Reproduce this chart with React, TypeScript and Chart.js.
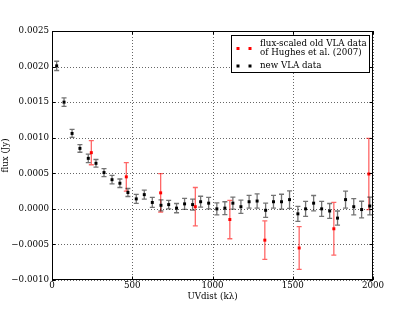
import React, { useEffect, useRef } from "react";
import { Chart, registerables } from "chart.js";
Chart.register(...registerables);

// new VLA data
const newUV = [29, 75, 125, 174, 226, 274, 324, 374, 423, 473, 525, 575, 625, 679, 727, 776, 826, 876, 926, 976, 1027, 1077, 1127, 1177, 1228, 1278, 1331, 1380, 1430, 1480, 1532, 1580, 1630, 1680, 1730, 1779, 1829, 1880, 1929, 1980];
const newFlux = [0.00201, 0.0015, 0.00106, 0.00085, 0.00071, 0.00064, 0.00051, 0.00041, 0.00036, 0.00023, 0.00014, 0.0002, 0.00009, 0.00005, 0.00006, 0.00001, 0.00007, 0.00006, 0.0001, 0.00008, 0.0, 0.00001, 0.00008, 0.00003, 0.0001, 0.00011, -0.00002, 0.0001, 0.0001, 0.00013, -0.00007, 0.0, 0.00008, 0.0, -0.00003, -0.00013, 0.00013, 0.00003, -0.00001, 0.00004];
const newErr = [0.000065, 0.00006, 0.000056, 0.000054, 0.00006, 0.000054, 0.000056, 0.00006, 0.00006, 0.000056, 0.000063, 0.000063, 0.00007, 0.000077, 0.00006, 0.000065, 0.000077, 0.000077, 0.000077, 0.00008, 0.000085, 0.00009, 0.000085, 0.000094, 0.00009, 0.0001, 0.0001, 0.00009, 0.000105, 0.000124, 0.000105, 0.000105, 0.000108, 0.000105, 0.000105, 0.0001, 0.00012, 0.000115, 0.000117, 0.000124];

// flux-scaled old VLA data (Hughes et al. 2007)
const oldUV = [245, 463, 677, 893, 1108, 1326, 1540, 1756, 1974];
const oldFlux = [0.00079, 0.00045, 0.000225, 0.00003, -0.00015, -0.00044, -0.00055, -0.00028, 0.00049];
const oldErr = [0.00017, 0.0002, 0.00027, 0.00027, 0.00027, 0.00027, 0.0003, 0.00037, 0.0005];

const xTicks = [0, 500, 1000, 1500, 2000];
const yTicks = [-0.001, -0.0005, 0, 0.0005, 0.001, 0.0015, 0.002, 0.0025];
const yTickLabels = ["\u22120.0010", "\u22120.0005", "0.0000", "0.0005", "0.0010", "0.0015", "0.0020", "0.0025"];
const legendOld = ["flux-scaled old VLA data", "of Hughes et al. (2007)"];
const legendNew = ["new VLA data"];

const FONT = "DejaVu Serif";
const FS = 8.7;

const errLists = [oldErr, newErr];
const errColors = ["rgba(255,0,0,0.6)", "rgba(0,0,0,0.55)"];

const dottedGrid = {
  id: "dottedGrid",
  beforeDatasetsDraw(chart: any) {
    const ctx = chart.ctx;
    const { left, right, top, bottom } = chart.chartArea;
    const xs = chart.scales.x;
    const ys = chart.scales.y;
    ctx.save();
    ctx.strokeStyle = "rgba(0,0,0,0.6)";
    ctx.lineWidth = 1;
    ctx.setLineDash([1, 2]);
    ctx.beginPath();
    xTicks.forEach((v) => {
      const px = Math.round(xs.getPixelForValue(v)) + 0.5;
      ctx.moveTo(px, top);
      ctx.lineTo(px, bottom);
    });
    yTicks.forEach((v) => {
      const py = Math.round(ys.getPixelForValue(v)) + 0.5;
      ctx.moveTo(left, py);
      ctx.lineTo(right, py);
    });
    ctx.stroke();
    ctx.restore();
  },
};

const errorBars = {
  id: "errorBars",
  beforeDatasetsDraw(chart: any) {
    const ctx = chart.ctx;
    const xs = chart.scales.x;
    const ys = chart.scales.y;
    chart.data.datasets.forEach((ds: any, i: number) => {
      const errs = errLists[i];
      ctx.save();
      ctx.strokeStyle = errColors[i];
      ctx.lineWidth = 1.3;
      ds.data.forEach((p: any, j: number) => {
        const px = xs.getPixelForValue(p.x);
        const t = ys.getPixelForValue(p.y + errs[j]);
        const b = ys.getPixelForValue(p.y - errs[j]);
        ctx.beginPath();
        ctx.moveTo(px, t);
        ctx.lineTo(px, b);
        ctx.moveTo(px - 2.5, t);
        ctx.lineTo(px + 2.5, t);
        ctx.moveTo(px - 2.5, b);
        ctx.lineTo(px + 2.5, b);
        ctx.stroke();
      });
      ctx.restore();
    });
  },
};

const frameAndLegend = {
  id: "frameAndLegend",
  afterDraw(chart: any) {
    const ctx = chart.ctx;
    const { left, right, top, bottom } = chart.chartArea;
    const xs = chart.scales.x;
    const ys = chart.scales.y;
    ctx.save();
    ctx.strokeStyle = "#000";
    ctx.lineWidth = 1;
    // inward ticks
    ctx.beginPath();
    xTicks.forEach((v) => {
      const px = Math.round(xs.getPixelForValue(v)) + 0.5;
      ctx.moveTo(px, bottom);
      ctx.lineTo(px, bottom - 3.5);
      ctx.moveTo(px, top);
      ctx.lineTo(px, top + 3.5);
    });
    yTicks.forEach((v) => {
      const py = Math.round(ys.getPixelForValue(v)) + 0.5;
      ctx.moveTo(left, py);
      ctx.lineTo(left + 3.5, py);
      ctx.moveTo(right, py);
      ctx.lineTo(right - 3.5, py);
    });
    ctx.stroke();
    // frame
    ctx.strokeRect(Math.round(left) + 0.5, Math.round(top) + 0.5, Math.round(right - left) - 1, Math.round(bottom - top) - 1);

    // legend
    const bx = Math.round(right) - 141.5;
    const by = Math.round(top) + 4.5;
    const bw = 138;
    const bh = 37;
    ctx.fillStyle = "#fff";
    ctx.fillRect(bx, by, bw, bh);
    ctx.strokeRect(bx, by, bw, bh);
    const mk = (x: number, y: number, c: string) => {
      ctx.fillStyle = c;
      ctx.fillRect(x - 1.5, y - 1.5, 3, 3);
    };
    const m1 = bx + 6.5;
    const m2 = bx + 18.5;
    const tx = bx + 28.5;
    mk(m1, by + 13, "#ff0000");
    mk(m2, by + 13, "#ff0000");
    mk(m1, by + 30.5, "#000");
    mk(m2, by + 30.5, "#000");
    ctx.fillStyle = "#000";
    ctx.font = `${FS}px "${FONT}"`;
    ctx.textBaseline = "middle";
    ctx.textAlign = "left";
    ctx.fillText(legendOld[0], tx, by + 8);
    ctx.fillText(legendOld[1], tx, by + 17.5);
    ctx.fillText(legendNew[0], tx, by + 30.5);
    ctx.restore();
  },
};

export default function App() {
  const ref = useRef<HTMLCanvasElement | null>(null);
  useEffect(() => {
    document.body.style.margin = "0";
    if (!ref.current) return;
    const chart = new Chart(ref.current, {
      type: "scatter",
      data: {
        datasets: [
          {
            label: "flux-scaled old VLA data of Hughes et al. (2007)",
            data: oldUV.map((x, i) => ({ x, y: oldFlux[i] })),
            backgroundColor: "#ff0000",
            borderColor: "#ff0000",
            borderWidth: 0,
            pointStyle: "rect",
            pointRadius: 2.1,
          },
          {
            label: "new VLA data",
            data: newUV.map((x, i) => ({ x, y: newFlux[i] })),
            backgroundColor: "#000",
            borderColor: "#000",
            borderWidth: 0,
            pointStyle: "rect",
            pointRadius: 2.1,
          },
        ],
      },
      options: {
        animation: false,
        responsive: false,
        events: [],
        layout: { padding: { left: 0, top: 31, right: 42, bottom: 0 } },
        plugins: { legend: { display: false }, tooltip: { enabled: false } },
        scales: {
          x: {
            type: "linear",
            min: 0,
            max: 2000,
            afterFit: (s: any) => {
              s.height = 32;
            },
            afterBuildTicks: (s: any) => {
              s.ticks = xTicks.map((v) => ({ value: v }));
            },
            ticks: {
              color: "#000",
              padding: 1,
              font: { family: FONT, size: FS },
              callback: (v: any) => String(v),
            },
            grid: { display: false, drawTicks: false },
            border: { display: false },
            title: {
              display: true,
              text: "UVdist (k\u03bb)",
              color: "#000",
              font: { family: FONT, size: FS },
              padding: { top: 0, bottom: 10 },
            },
          },
          y: {
            type: "linear",
            min: -0.001,
            max: 0.0025,
            afterFit: (s: any) => {
              s.width = 52;
            },
            afterBuildTicks: (s: any) => {
              s.ticks = yTicks.map((v) => ({ value: v }));
            },
            ticks: {
              color: "#000",
              padding: 3,
              font: { family: FONT, size: FS },
              callback: (v: any) => {
                const i = yTicks.findIndex((t) => Math.abs(t - v) < 1e-9);
                return i >= 0 ? yTickLabels[i] : "";
              },
            },
            grid: { display: false, drawTicks: false },
            border: { display: false },
            title: {
              display: true,
              text: "flux (Jy)",
              color: "#000",
              font: { family: FONT, size: FS },
              padding: { top: 1, bottom: 0 },
            },
          },
        },
      },
      plugins: [dottedGrid, errorBars, frameAndLegend],
    });
    return () => chart.destroy();
  }, []);
  return (
    <div style={{ width: 415, height: 312, background: "#fff" }}>
      <canvas ref={ref} width={415} height={312} style={{ display: "block" }} />
    </div>
  );
}
